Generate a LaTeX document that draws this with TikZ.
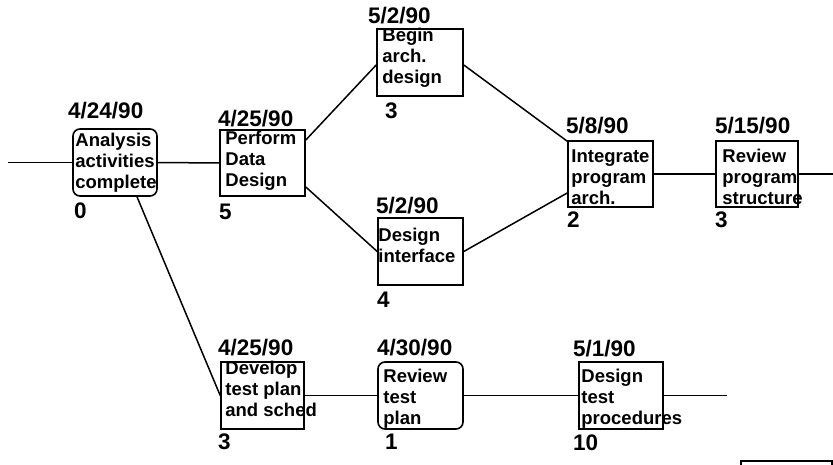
\documentclass[tikz,border=0pt]{standalone}
\usepackage{fontspec}
\setmainfont{Liberation Sans}
\newcommand\firstln{\rule{0pt}{14pt}}
\begin{document}
\begin{tikzpicture}[x=1pt,y=-1pt,
  task/.style={draw, line width=1.6pt, inner sep=0pt},
  milestone/.style={task, rounded corners=7pt},
  boxtext/.style={anchor=north west, inner sep=0pt, align=left,
    font=\fontsize{18.5}{21}\selectfont\bfseries},
  datelbl/.style={anchor=base west, inner sep=0pt,
    font=\fontsize{22.5}{26}\selectfont\bfseries},
  link/.style={draw, line width=1.5pt}]

\useasboundingbox (0,0) rectangle (833,465);

% activity boxes
\node[milestone, minimum width=84pt, minimum height=67pt] (an)  at (115,162.5) {};
\node[task, minimum width=85pt, minimum height=66pt]      (pd)  at (262.5,163) {};
\node[task, minimum width=86pt, minimum height=67pt]      (bad) at (420,62.5) {};
\node[task, minimum width=85pt, minimum height=67pt]      (di)  at (420.5,251.5) {};
\node[task, minimum width=85pt, minimum height=66pt]      (ipa) at (610.5,174) {};
\node[task, minimum width=82pt, minimum height=66pt]      (rps) at (757,174) {};
\node[task, minimum width=83pt, minimum height=67pt]      (dt)  at (262.5,395.5) {};
\node[milestone, minimum width=85pt, minimum height=67pt] (rt)  at (420.5,395.5) {};
\node[task, minimum width=84pt, minimum height=67pt]      (dtp) at (621,395.5) {};

% activity names
\node[boxtext] (an-t)  at ([xshift=3pt,yshift=-4pt]an.north west)   {\firstln Analysis\\activities\\complete};
\node[boxtext] (pd-t)  at ([xshift=6pt,yshift=-1pt]pd.north west)   {\firstln Perform\\Data\\Design};
\node[boxtext] (bad-t) at ([xshift=6pt,yshift=1pt]bad.north west)   {\firstln Begin\\arch.\\design};
\node[boxtext] (di-t)  at ([xshift=1pt,yshift=-10pt]di.north west)  {\firstln Design\\interface};
\node[boxtext] (ipa-t) at ([xshift=4pt,yshift=-8pt]ipa.north west)  {\firstln Integrate\\program\\arch.};
\node[boxtext] (rps-t) at ([xshift=7pt,yshift=-8pt]rps.north west)  {\firstln Review\\program\\structure};
\node[boxtext] (dt-t)  at ([xshift=5pt,yshift=1pt]dt.north west)    {\firstln Develop\\test plan\\and sched};
\node[boxtext] (rt-t)  at ([xshift=6pt,yshift=-7pt]rt.north west)   {\firstln Review\\test\\plan};
\node[boxtext] (dtp-t) at ([xshift=3pt,yshift=-7pt]dtp.north west)  {\firstln Design\\test\\procedures};

% start dates
\node[datelbl] (an-d)  at (68,119)  {4/24/90};
\node[datelbl] (pd-d)  at (218,127) {4/25/90};
\node[datelbl] (bad-d) at (368,24)  {5/2/90};
\node[datelbl] (di-d)  at (376,214) {5/2/90};
\node[datelbl] (ipa-d) at (566,134) {5/8/90};
\node[datelbl] (rps-d) at (715,134) {5/15/90};
\node[datelbl] (dt-d)  at (218,355) {4/25/90};
\node[datelbl] (rt-d)  at (377,355) {4/30/90};
\node[datelbl] (dtp-d) at (573,356) {5/1/90};

% durations
\node[datelbl] (an-n)  at (74,219)  {0};
\node[datelbl] (pd-n)  at (219,220) {5};
\node[datelbl] (bad-n) at (385,119) {3};
\node[datelbl] (di-n)  at (377,307) {4};
\node[datelbl] (ipa-n) at (567,228) {2};
\node[datelbl] (rps-n) at (715,228) {3};
\node[datelbl] (dt-n)  at (218,449) {3};
\node[datelbl] (rt-n)  at (385,449) {1};
\node[datelbl] (dtp-n) at (573,450) {10};

% open ends of the network
\coordinate (in)   at (8,162.5);
\coordinate (out1) at (833,174);
\coordinate (out2) at (727,395.5);

% dependencies
\path[link] (in) -- (an.west);
\path[link] (an.east) -- (pd.west);
\path[link] ([yshift=23pt]pd.east) -- ([yshift=-2.5pt]bad.west);
\path[link] ([yshift=-2.5pt]bad.east) -- ([yshift=-1pt]ipa.north west);
\path[link] ([yshift=-24pt]pd.east) -- (di.west);
\path[link] (di.east) -- ([yshift=-19pt]ipa.west);
\path[link] (ipa.east) -- (rps.west);
\path[link] (rps.east) -- (out1);
\path[link] ([xshift=22pt]an.south) -- (dt.west);
\path[link] (dt.east) -- (rt.west);
\path[link] (rt.east) -- (dtp.west);
\path[link] (dtp.east) -- (out2);

% box cut off by the lower edge
\begin{scope}
  \clip (0,0) rectangle (833,465);
  \draw[line width=1.6pt] (741,475) -- (741,461) -- (832,461) -- (832,475);
\end{scope}
\end{tikzpicture}
\end{document}
